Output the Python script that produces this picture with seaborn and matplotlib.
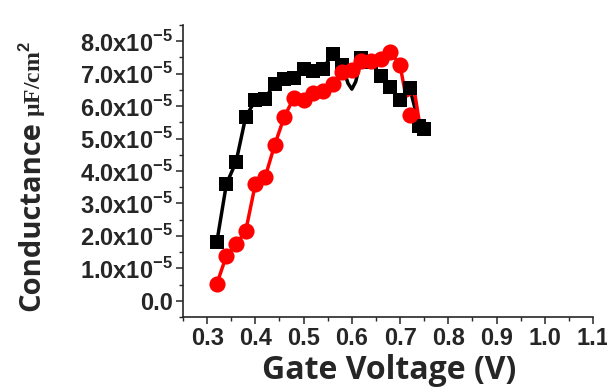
#!/usr/bin/env python3
# Conductance vs gate voltage, two sweeps
import numpy as np
import pandas as pd
import matplotlib
matplotlib.use('Agg')
import matplotlib.pyplot as plt
import seaborn as sns
from matplotlib.ticker import MultipleLocator, FixedLocator

sns.set_style('ticks')
plt.rcParams['mathtext.fontset'] = 'custom'
plt.rcParams['mathtext.rm'] = 'Liberation Sans:bold'
plt.rcParams['mathtext.bf'] = 'Liberation Sans:bold'

# Black squares (measured points), units of 1e-5
black_x = [0.32, 0.34, 0.36, 0.38, 0.40, 0.42, 0.44, 0.46, 0.48, 0.50, 0.52, 0.54,
           0.56, 0.58, 0.62, 0.64, 0.66, 0.68, 0.70, 0.72, 0.74, 0.75]
black_y = [1.8, 3.6, 4.28, 5.67, 6.18, 6.23, 6.69, 6.84, 6.87, 7.15, 7.07, 7.15,
           7.6, 7.25, 7.48, 7.35, 6.92, 6.6, 6.18, 6.56, 5.4, 5.28]
# Black connecting curve (spline trace, with its dip)
black_line_x = [0.32, 0.34, 0.36, 0.38, 0.40, 0.42, 0.44, 0.46, 0.48, 0.50, 0.52, 0.54,
                0.56, 0.58, 0.592, 0.60, 0.608, 0.62, 0.64, 0.66, 0.68, 0.70, 0.72, 0.74, 0.75]
black_line_y = [1.8, 3.6, 4.28, 5.67, 6.18, 6.23, 6.69, 6.84, 6.87, 7.15, 7.07, 7.15,
                7.6, 7.25, 6.7, 6.52, 6.75, 7.48, 7.35, 6.92, 6.6, 6.18, 6.56, 5.4, 5.28]

# Red circles (measured points)
red_x = [0.32, 0.34, 0.36, 0.38, 0.40, 0.42, 0.44, 0.46, 0.48, 0.50, 0.52, 0.54,
         0.56, 0.58, 0.60, 0.62, 0.64, 0.66, 0.68, 0.70, 0.72]
red_y = [0.52, 1.39, 1.74, 2.15, 3.6, 3.8, 4.8, 5.67, 6.26, 6.2, 6.4, 6.46,
         6.67, 7.04, 7.12, 7.38, 7.4, 7.45, 7.68, 7.25, 5.72]
# Red connecting curve (spline trace)
red_line_x = [0.32, 0.34, 0.36, 0.38, 0.40, 0.42, 0.44, 0.46, 0.48, 0.50, 0.52, 0.54,
              0.56, 0.58, 0.60, 0.62, 0.64, 0.66, 0.68, 0.70, 0.712, 0.73, 0.741, 0.746]
red_line_y = [0.52, 1.39, 1.74, 2.15, 3.6, 3.8, 4.8, 5.67, 6.26, 6.2, 6.4, 6.46,
              6.67, 7.04, 7.12, 7.38, 7.4, 7.45, 7.68, 7.25, 6.3, 6.43, 5.4, 5.2]

y_ticks = [0, 1, 2, 3, 4, 5, 6, 7, 8]
y_tick_labels = ['0.0'] + ['%d.0x10$^{-5}$' % v for v in y_ticks[1:]]
x_ticks = [0.3, 0.4, 0.5, 0.6, 0.7, 0.8, 0.9, 1.0, 1.1]

fig = plt.figure(figsize=(6.07, 3.89), dpi=100)
ax = fig.add_axes([0.3015, 0.185, 0.6755, 0.751])

sns.lineplot(x=black_line_x, y=black_line_y, sort=False, color='black', lw=2.5, ax=ax)
sns.scatterplot(x=black_x, y=black_y, marker='s', s=95, color='black', edgecolor='black',
                linewidth=0, ax=ax, zorder=3)
sns.lineplot(x=red_line_x, y=red_line_y, sort=False, color='#ff0000', lw=2.5, ax=ax)
sns.scatterplot(x=red_x, y=red_y, marker='o', s=135, color='#ff0000', edgecolor='#ff0000',
                linewidth=0, ax=ax, zorder=3)

ax.set_xlim(0.25, 1.1)
ax.set_ylim(-0.5, 8.5)
sns.despine(ax=ax)
for s in ['left', 'bottom']:
    ax.spines[s].set_linewidth(1.2)

ax.xaxis.set_major_locator(FixedLocator(x_ticks))
ax.xaxis.set_minor_locator(MultipleLocator(0.05))
ax.set_xticklabels(['%.1f' % v for v in x_ticks], fontsize=17, fontweight='bold',
                   family='Liberation Sans')
ax.yaxis.set_major_locator(FixedLocator(y_ticks))
ax.yaxis.set_minor_locator(MultipleLocator(0.5))
ax.set_yticklabels(y_tick_labels, fontsize=17, fontweight='bold', family='Liberation Sans')
ax.tick_params(which='major', length=5, width=1.1, direction='out', pad=2)
ax.tick_params(which='minor', length=3, width=1.0, direction='out')

fig.text(0.641, 0.006, 'Gate Voltage (V)', ha='center', va='bottom', fontsize=23,
         fontweight='bold', family='Open Sans')
fig.text(0.053, 0.445, 'Conductance', rotation=90, ha='center', va='center', fontsize=21,
         fontweight='bold', family='Open Sans')
fig.text(0.053, 0.70, 'µF/cm$^2$', rotation=90, ha='center', va='bottom', fontsize=17,
         fontweight='bold', family='Liberation Serif')

fig.savefig('out.png', dpi=100)
